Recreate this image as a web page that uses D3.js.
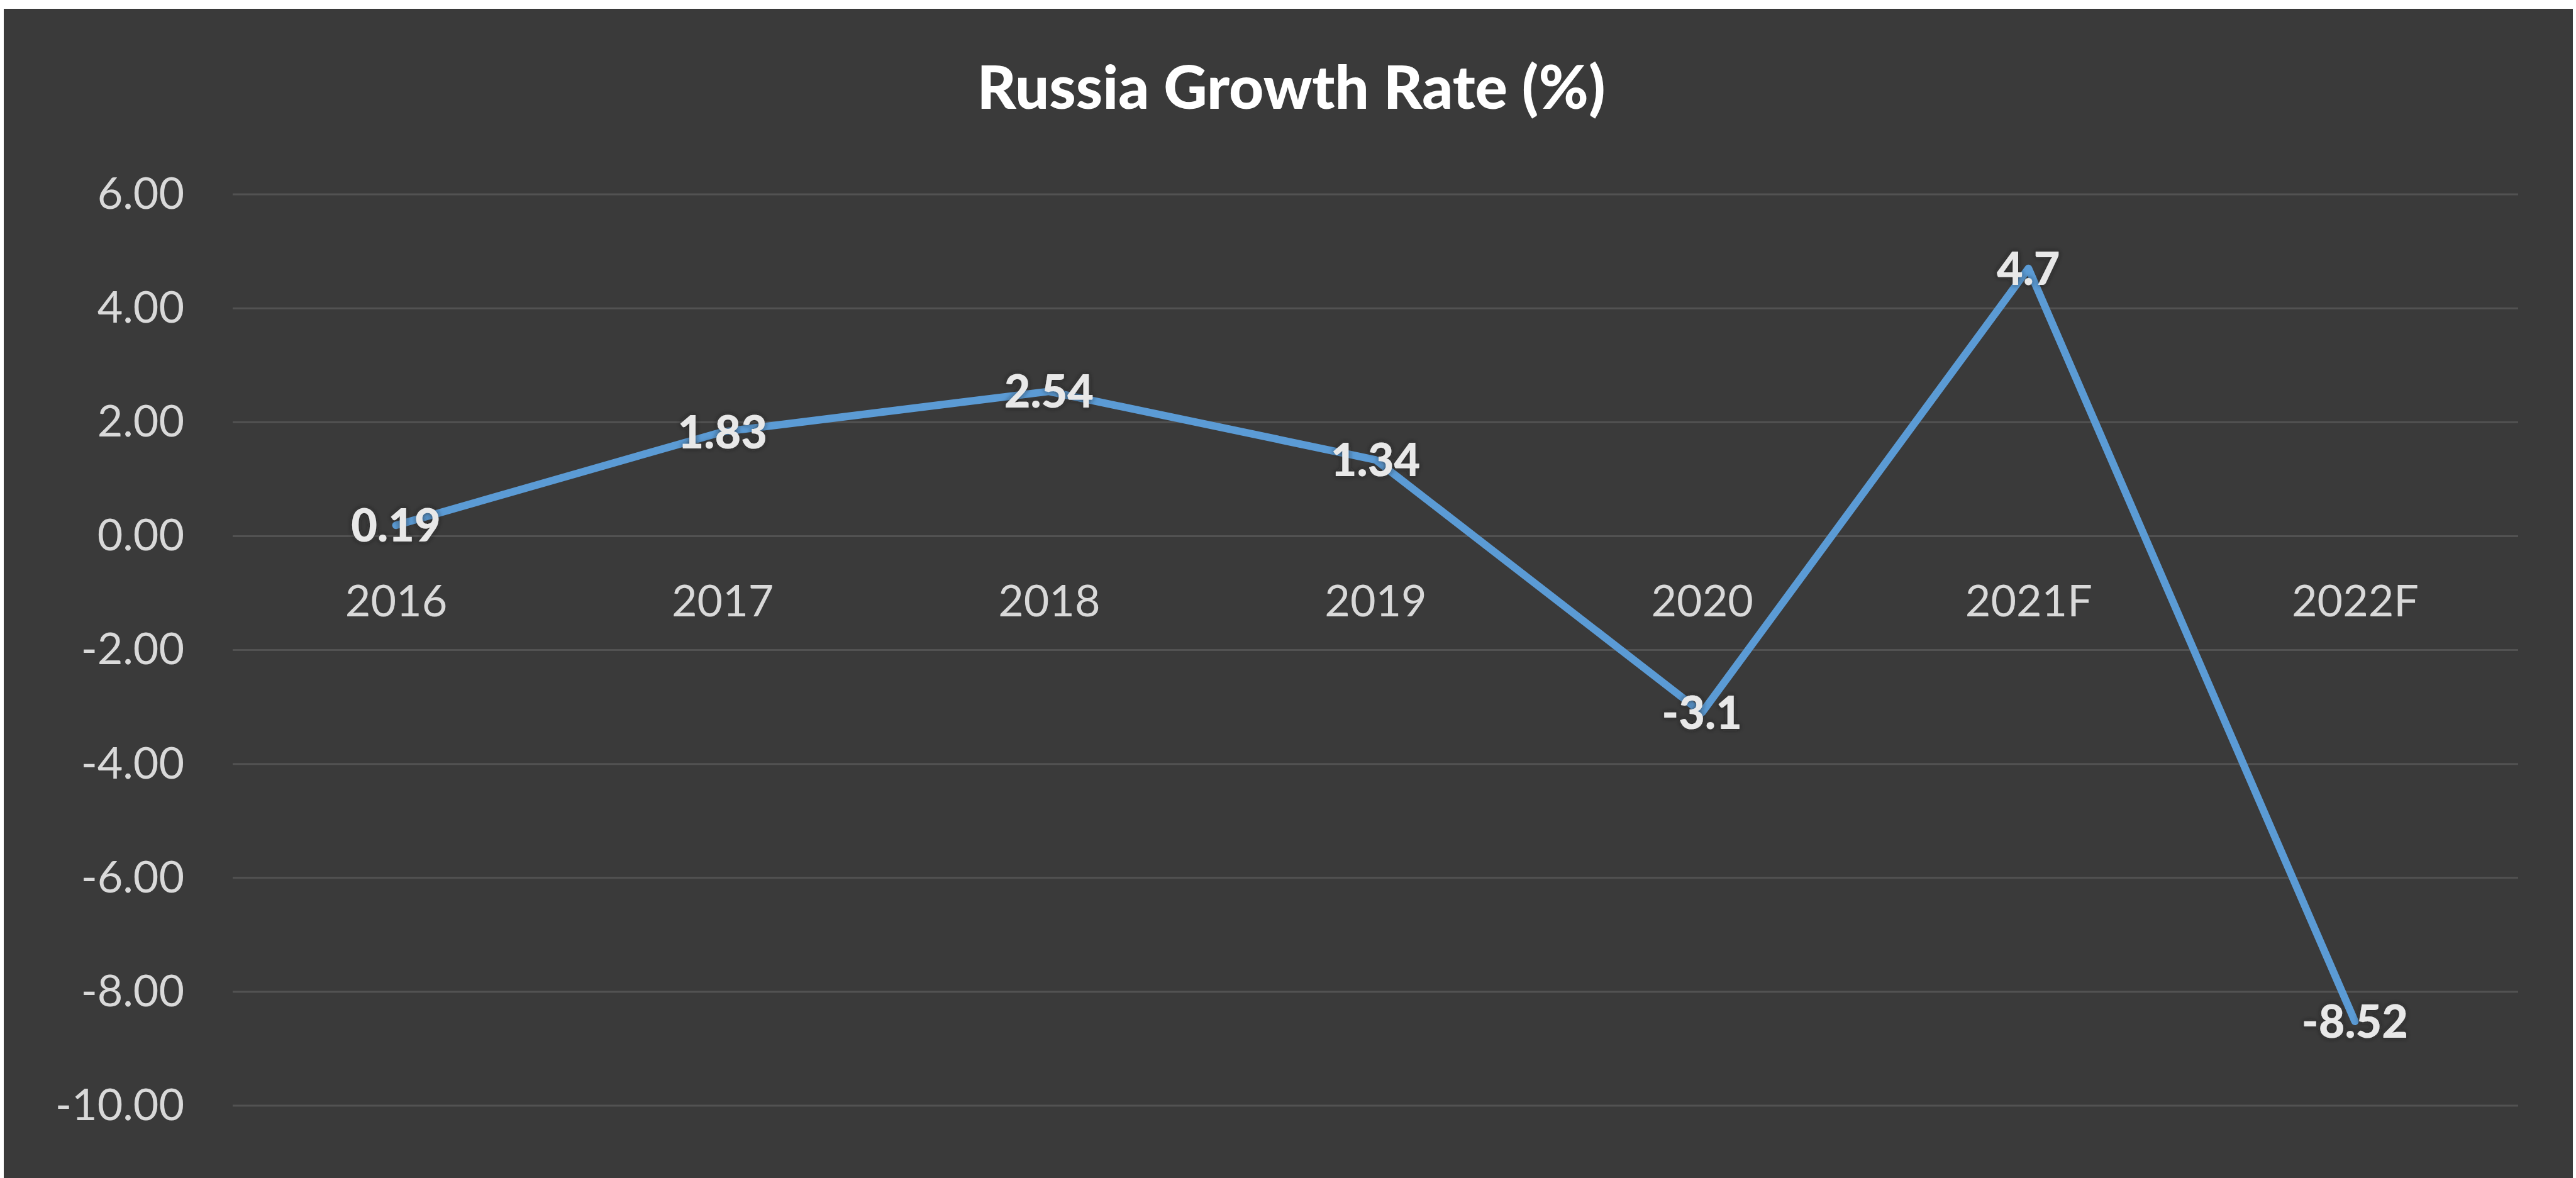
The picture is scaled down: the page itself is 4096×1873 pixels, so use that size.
<!DOCTYPE html>
<html>
<head>
<meta charset="utf-8">
<script src="https://cdn.jsdelivr.net/npm/d3@7"></script>
<style>
  html, body { margin: 0; padding: 0; background: #ffffff; }
  svg { display: block; }
</style>
</head>
<body>
<svg id="chart" width="4096" height="1873"></svg>
<script>
// Russia growth rate, line chart on a dark Excel-style panel.
var years  = ['2016', '2017', '2018', '2019', '2020', '2021F', '2022F'];
var values = [0.19, 1.83, 2.54, 1.34, -3.1, 4.7, -8.52];
var labels = ['0.19', '1.83', '2.54', '1.34', '-3.1', '4.7', '-8.52'];
var yTicks = [-10, -8, -6, -4, -2, 0, 2, 4, 6];
var title  = 'Russia Growth Rate (%)';

var W = 4096, H = 1873;
var svg = d3.select('#chart');

// dark panel
svg.append('rect')
    .attr('x', 6).attr('y', 14)
    .attr('width', 4085).attr('height', H - 14)
    .attr('fill', '#3a3a3a');

var defs = svg.append('defs');
var glow = defs.append('filter').attr('id', 'glow')
    .attr('x', '-20%').attr('y', '-30%').attr('width', '140%').attr('height', '160%');
glow.append('feGaussianBlur').attr('in', 'SourceAlpha').attr('stdDeviation', 4).attr('result', 'b');
glow.append('feFlood').attr('flood-color', '#1e1e1e').attr('flood-opacity', 0.7);
glow.append('feComposite').attr('in2', 'b').attr('operator', 'in').attr('result', 's');
var mg = glow.append('feMerge');
mg.append('feMergeNode').attr('in', 's');
mg.append('feMergeNode').attr('in', 'SourceGraphic');

var x = d3.scalePoint().domain(years).range([370, 4004]).padding(0.5);
var y = d3.scaleLinear().domain([-10, 6]).range([1758, 309]);

// gridlines
svg.append('g')
    .selectAll('line')
    .data(yTicks)
    .join('line')
    .attr('x1', 370).attr('x2', 4004)
    .attr('y1', function (d) { return y(d); })
    .attr('y2', function (d) { return y(d); })
    .attr('stroke', '#525252')
    .attr('stroke-width', 3);

// y axis labels
var ay = svg.append('g')
    .attr('transform', 'translate(293,0)')
    .call(d3.axisLeft(y).tickValues(yTicks)
        .tickFormat(function (d) { return d.toFixed(2); })
        .tickSize(0).tickPadding(0));
ay.select('.domain').remove();
ay.selectAll('text')
    .attr('font-family', 'Lato, sans-serif')
    .attr('font-size', 70)
    .attr('fill', '#d9d9d9');

// category labels, sitting just under the zero line
var ax = svg.append('g')
    .attr('transform', 'translate(0,' + y(0) + ')')
    .call(d3.axisBottom(x).tickSize(0).tickPadding(78));
ax.select('.domain').remove();
ax.selectAll('text')
    .attr('font-family', 'Lato, sans-serif')
    .attr('font-size', 70)
    .attr('fill', '#d9d9d9');

// data line
var pts = years.map(function (c, i) { return [c, values[i]]; });
svg.append('path')
    .datum(pts)
    .attr('fill', 'none')
    .attr('stroke', '#5b9bd5')
    .attr('stroke-width', 12)
    .attr('stroke-linejoin', 'round')
    .attr('stroke-linecap', 'round')
    .attr('d', d3.line()
        .x(function (d) { return x(d[0]); })
        .y(function (d) { return y(d[1]); }));

// data labels, centred on the points
svg.append('g')
    .selectAll('text')
    .data(pts)
    .join('text')
    .attr('x', function (d) { return x(d[0]); })
    .attr('y', function (d) { return y(d[1]); })
    .attr('dy', '0.36em')
    .attr('text-anchor', 'middle')
    .attr('font-family', 'Lato, sans-serif')
    .attr('font-weight', 900)
    .attr('font-size', 72)
    .attr('fill', '#e8e8e8')
    .attr('filter', 'url(#glow)')
    .text(function (d, i) { return labels[i]; });

// title
svg.append('text')
    .attr('x', 2053).attr('y', 173)
    .attr('text-anchor', 'middle')
    .attr('font-family', 'Lato, sans-serif')
    .attr('font-weight', 900)
    .attr('font-size', 96)
    .attr('fill', '#ffffff')
    .text(title);
</script>
</body>
</html>
